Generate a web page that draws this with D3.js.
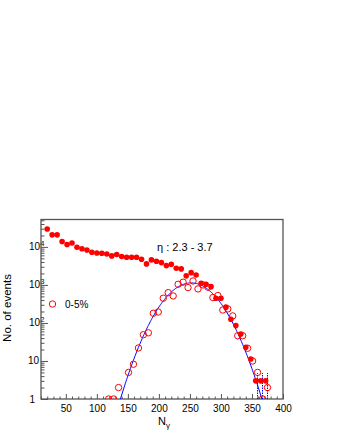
<!DOCTYPE html>
<html>
<head>
<meta charset="utf-8">
<script src="https://cdn.jsdelivr.net/npm/d3@7"></script>
<style>
  body { margin: 0; background: #fff; }
  text { font-family: "Liberation Sans", Arial, sans-serif; fill: #000; }
</style>
</head>
<body>
<svg width="340" height="440"></svg>
<script>
// N_gamma bin centres and counts, all events (filled red dots)
let allX = [20, 28, 36, 44, 52, 60, 68, 76, 84, 92, 100, 108, 116, 124, 132, 140, 148, 156, 164, 172,
    180, 188, 196, 204, 212, 220, 228, 236, 244, 252, 260, 268, 276, 284, 292, 300, 308, 316, 324, 332,
    340, 348, 356, 364, 372];
let allY = [29500, 20700, 20700, 13800, 11500, 12700, 9800, 8900, 8300, 7200, 6900, 6800, 6500, 5800, 6300, 5600, 5350, 5350, 5350, 4750,
    3570, 4550, 4200, 3860, 3220, 3500, 2750, 2640, 1730, 2100, 1830, 1110, 1040, 900, 447, 447, 260, 125, 85, 51,
    23, 11.3, 3, 3, 3];

// 0-5% centrality (open circles)
let centX = [119, 127, 135, 151, 159, 167, 175, 183, 191, 199, 207, 215, 223, 231, 239, 247, 255, 263, 271, 279,
    287, 295, 303, 311, 319, 327, 335, 343, 351, 359, 367, 375];
let centY = [1, 1, 2, 5, 8.2, 22, 49, 55, 180, 194, 447, 626, 513, 1040, 1180, 850, 1270, 785, 1000, 870,
    465, 525, 219, 234, 153, 46, 46, 21.6, 10, 5, 1, 2];

// dotted error bars on the last open points
let errX = [359, 367, 375];
let errLo = [1, 1, 1];
let errHi = [4.8, 4.8, 4.8];

// gaussian fit to the 0-5% sample
let fitAmp = 1130, fitMean = 252, fitSigma = 30.4;
let fitX = [138, 366];

let xTicks = [50, 100, 150, 200, 250, 300, 350, 400];
let yTicks = [1, 10, 100, 1000, 10000];

let svg = d3.select("svg");
let L = 41, R = 283, T = 219.5, B = 399;

let x = d3.scaleLinear().domain([10, 400]).range([L, R]);
let y = d3.scaleLog().domain([1, Math.pow(10, 4.72)]).range([B, T]);

svg.append("defs").append("clipPath").attr("id", "clip")
    .append("rect").attr("x", L).attr("y", T).attr("width", R - L).attr("height", B - T);

//x axis ticks (pointing into the frame)
let xMinor = d3.range(10, 401, 10).filter(v => v % 50 !== 0);
let gx = svg.append("g").attr("transform", "translate(0," + B + ")");
gx.call(d3.axisBottom(x).tickValues(xMinor).tickSize(-2.5).tickFormat(""));
gx.append("g").call(d3.axisBottom(x).tickValues(xTicks).tickSize(-5).tickPadding(6).tickFormat(d3.format("d")));
gx.selectAll(".domain").remove();
gx.selectAll("line").attr("stroke", "#555");
gx.selectAll("text").style("font-size", "10px").attr("fill", "#000");

//y axis ticks
let yMinor = [];
yTicks.forEach(d => { for (let k = 2; k <= 9; k++) if (d * k < y.domain()[1]) yMinor.push(d * k); });
let gy = svg.append("g").attr("transform", "translate(" + L + ",0)");
gy.call(d3.axisLeft(y).tickValues(yMinor).tickSize(-3.5).tickFormat(""));
gy.append("g").call(d3.axisLeft(y).tickValues(yTicks).tickSize(-7).tickFormat(""));
gy.selectAll(".domain").remove();
gy.selectAll("line").attr("stroke", "#555");

//y labels with superscripts
yTicks.forEach(d => {
    let p = Math.round(Math.log10(d));
    let t = svg.append("text").attr("y", y(d)).attr("dy", "0.35em").style("font-size", "10px");
    if (p < 2) {
        t.attr("x", p === 0 ? 35 : 39).attr("text-anchor", "end").text(d);
    } else {
        t.attr("x", 29);
        t.append("tspan").text("10");
        t.append("tspan").attr("dy", -4).style("font-size", "7.5px").text(p);
    }
});

//frame
svg.append("rect").attr("x", L).attr("y", T).attr("width", R - L).attr("height", B - T)
    .attr("fill", "none").attr("stroke", "#555").attr("stroke-width", 1.3);

let plot = svg.append("g").attr("clip-path", "url(#clip)");

//fit curve
let fitPts = d3.range(fitX[0], fitX[1] + 0.01, 1).map(v => [v, fitAmp * Math.exp(-(v - fitMean) * (v - fitMean) / (2 * fitSigma * fitSigma))]);
plot.append("path").datum(fitPts)
    .attr("fill", "none").attr("stroke", "#0000ff").attr("stroke-width", 1)
    .attr("d", d3.line().x(d => x(d[0])).y(d => y(Math.max(d[1], 0.9))));

//error bars
plot.selectAll(".err").data(errX).enter().append("line")
    .attr("x1", d => x(d)).attr("x2", d => x(d))
    .attr("y1", (d, i) => y(errLo[i])).attr("y2", (d, i) => y(errHi[i]))
    .attr("stroke", "#0000ff").attr("stroke-width", 1).attr("stroke-dasharray", "1.5,1");

//filled points
plot.selectAll(".all").data(allX).enter().append("circle")
    .attr("cx", d => x(d)).attr("cy", (d, i) => y(allY[i]))
    .attr("r", 2.8).attr("fill", "#ff0000");

//open points
plot.selectAll(".cent").data(centX).enter().append("circle")
    .attr("cx", d => x(d)).attr("cy", (d, i) => y(centY[i]))
    .attr("r", 3.2).attr("fill", "none").attr("stroke", "#ff0000").attr("stroke-width", 1);

//legend
svg.append("circle").attr("cx", 52.5).attr("cy", 304).attr("r", 3.2)
    .attr("fill", "none").attr("stroke", "#ff0000").attr("stroke-width", 1);
svg.append("text").attr("x", 65).attr("y", 307.5).style("font-size", "10px").text("0-5%");

//eta range
svg.append("text").attr("x", 157).attr("y", 251).style("font-size", "11px").text("η : 2.3 - 3.7");

//axis titles
let xt = svg.append("text").attr("x", 158).attr("y", 425).style("font-size", "11px");
xt.append("tspan").text("N");
xt.append("tspan").attr("dy", 3).style("font-size", "8px").text("γ");

svg.append("text").attr("transform", "translate(11,308) rotate(-90)")
    .attr("text-anchor", "middle").style("font-size", "11.5px").text("No. of events");
</script>
</body>
</html>
